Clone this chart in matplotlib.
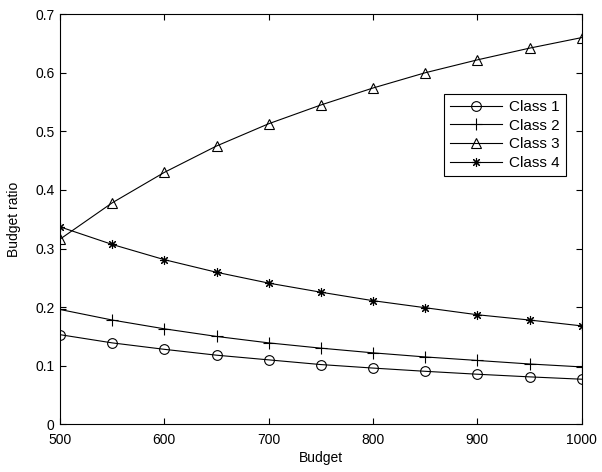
import matplotlib
matplotlib.use("Agg")
import matplotlib.pyplot as plt

budget = [500, 550, 600, 650, 700, 750, 800, 850, 900, 950, 1000]
class1 = [0.153, 0.139, 0.128, 0.118, 0.110, 0.102, 0.096, 0.0905, 0.0855, 0.081, 0.077]
class2 = [0.196, 0.178, 0.163, 0.150, 0.139, 0.130, 0.122, 0.115, 0.109, 0.103, 0.098]
class3 = [0.316, 0.378, 0.430, 0.475, 0.513, 0.545, 0.574, 0.600, 0.622, 0.642, 0.660]
class4 = [0.337, 0.307, 0.281, 0.2595, 0.241, 0.2255, 0.211, 0.199, 0.187, 0.178, 0.168]
labels = ["Class 1", "Class 2", "Class 3", "Class 4"]
markers = ["o", "+", "^", (8, 2, 0)]
sizes = [7, 8, 7, 6.5]

plt.rcParams['font.family'] = ['Liberation Sans', 'DejaVu Sans']
fig = plt.figure(figsize=(6.02, 4.72), dpi=100)
ax = fig.add_axes([0.0997, 0.101, 0.8666, 0.869])

for ys, lab, m, ms in zip([class1, class2, class3, class4], labels, markers, sizes):
    ax.plot(budget, ys, color="black", linewidth=0.8, marker=m, markersize=ms,
            markerfacecolor="none", markeredgecolor="black", markeredgewidth=0.8, label=lab)

ax.set_xlim(500, 1000)
ax.set_ylim(0, 0.7)
ax.set_xticks([500, 600, 700, 800, 900, 1000])
ax.set_yticks([0, 0.1, 0.2, 0.3, 0.4, 0.5, 0.6, 0.7])
ax.set_yticklabels(["0", "0.1", "0.2", "0.3", "0.4", "0.5", "0.6", "0.7"])
ax.tick_params(direction="in", top=True, right=True, labelsize=10, length=4, width=0.8)
ax.tick_params(axis="x", pad=6)
ax.tick_params(axis="y", pad=4)
for s in ax.spines.values():
    s.set_linewidth(0.8)
ax.set_xlabel("Budget", fontsize=10, labelpad=3)
ax.set_ylabel("Budget ratio", fontsize=10, labelpad=10)

leg = ax.legend(loc="upper left", bbox_to_anchor=(0.736, 0.805), fontsize=11,
                fancybox=False, edgecolor="black", framealpha=1, handlelength=3.4,
                borderpad=0.4, labelspacing=0.3, handletextpad=0.45, borderaxespad=0)
leg.get_frame().set_linewidth(0.8)

fig.savefig("out.png", dpi=100)
